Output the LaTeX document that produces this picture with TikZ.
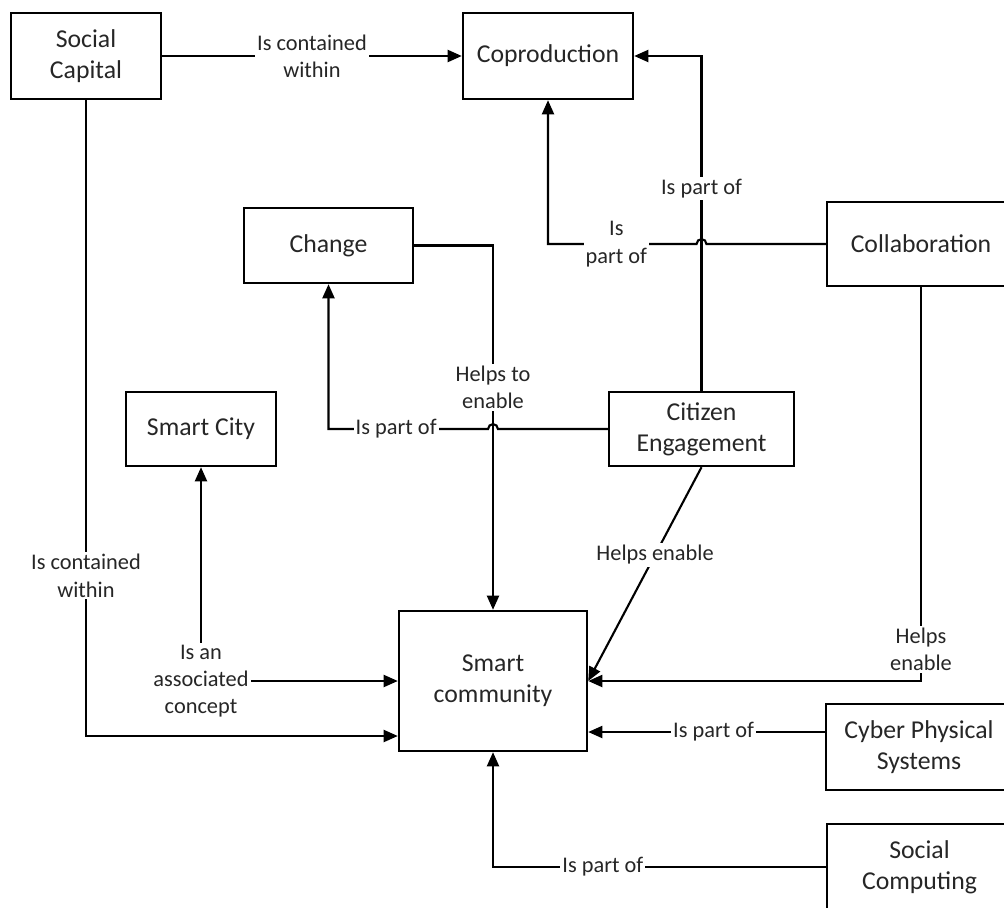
\documentclass[tikz,border=0pt]{standalone}
\usepackage{fontspec}
\setmainfont{Carlito}
\usepackage{tikz}
\usetikzlibrary{calc, arrows.meta}

\begin{document}
\begin{tikzpicture}[x=0.025cm, y=-0.025cm,
    concept/.style={draw, line width=1.7pt, align=center, inner sep=2pt, text=black!85,
      font=\fontsize{18.3}{22.3}\selectfont},
    lbl/.style={fill=white, align=center, inner sep=1.5pt, text=black!85,
      font=\fontsize{15.9}{19.4}\selectfont},
    link/.style={line width=1.5pt, >={Triangle[length=10pt,width=8.5pt]}}]
  \useasboundingbox (0,0) rectangle (1004,907);

  % concepts
  \node[concept, minimum width=3.75cm, minimum height=2.15cm] (soccap) at (86,56) {Social\\Capital};
  \node[concept, minimum width=4.25cm, minimum height=2.15cm] (copro) at (548,56) {Coproduction};
  \node[concept, minimum width=4.225cm, minimum height=1.875cm] (change) at (328.5,245.5) {Change};
  \node[concept, minimum width=4.7cm, minimum height=2.1cm] (collab) at (921,244) {Collaboration};
  \node[concept, minimum width=3.75cm, minimum height=1.85cm] (smartcity) at (201,429) {Smart City};
  \node[concept, minimum width=4.625cm, minimum height=1.85cm] (citizen) at (701.5,429) {Citizen\\Engagement};
  \node[concept, minimum width=4.7cm, minimum height=3.5cm] (smartcomm) at (493,681) {Smart\\community};
  \node[concept, minimum width=4.65cm, minimum height=2.15cm] (cps) at (919,747) {Cyber Physical\\Systems};
  \node[concept, minimum width=4.625cm, minimum height=2.15cm] (soccomp) at (919.5,867) {Social\\Computing};

  \coordinate (caprow) at (0,736);
  \coordinate (cpsrow) at (0,732);
  \coordinate (hopA) at (smartcomm.north |- citizen.west);
  \coordinate (hopB) at (citizen.north |- collab.west);

  % links
  \draw[link,->] (soccap.east) -- node[lbl]{Is contained\\within} (copro.west);
  \draw[link,->] (soccap.south) |- node[lbl,pos=0.374]{Is contained\\within} (smartcomm.west |- caprow);
  \draw[link,<->] (smartcity.south) |- node[lbl]{Is an\\associated\\concept} (smartcomm.west);
  \draw[link,->] (change.east) -| node[lbl,pos=0.695]{Helps to\\enable} (smartcomm.north);
  \draw[link,->] (citizen.west) -- ([xshift=3.5pt]hopA) arc[start angle=0, end angle=180, radius=3.5pt]
    -| node[lbl,pos=0.288]{Is part of} (change.south);
  \draw[link,->] (citizen.north) |- node[lbl,pos=0.302]{Is part of} (copro.east);
  \draw[link,->] (collab.west) -- ([xshift=3.5pt]hopB) arc[start angle=0, end angle=180, radius=3.5pt]
    -| node[lbl,pos=0.27]{Is\\part of} (copro.south);
  \draw[link,->] (citizen.south) -- node[lbl,pos=0.41]{Helps enable} (smartcomm.east);
  \draw[link,->] (collab.south) |- node[lbl,pos=0.46]{Helps\\enable} (smartcomm.east);
  \draw[link,->] (cps.west |- cpsrow) -- node[lbl,pos=0.47]{Is part of} (smartcomm.east |- cpsrow);
  \draw[link,->] (soccomp.west) -| node[lbl,pos=0.335]{Is part of} (smartcomm.south);
\end{tikzpicture}
\end{document}
